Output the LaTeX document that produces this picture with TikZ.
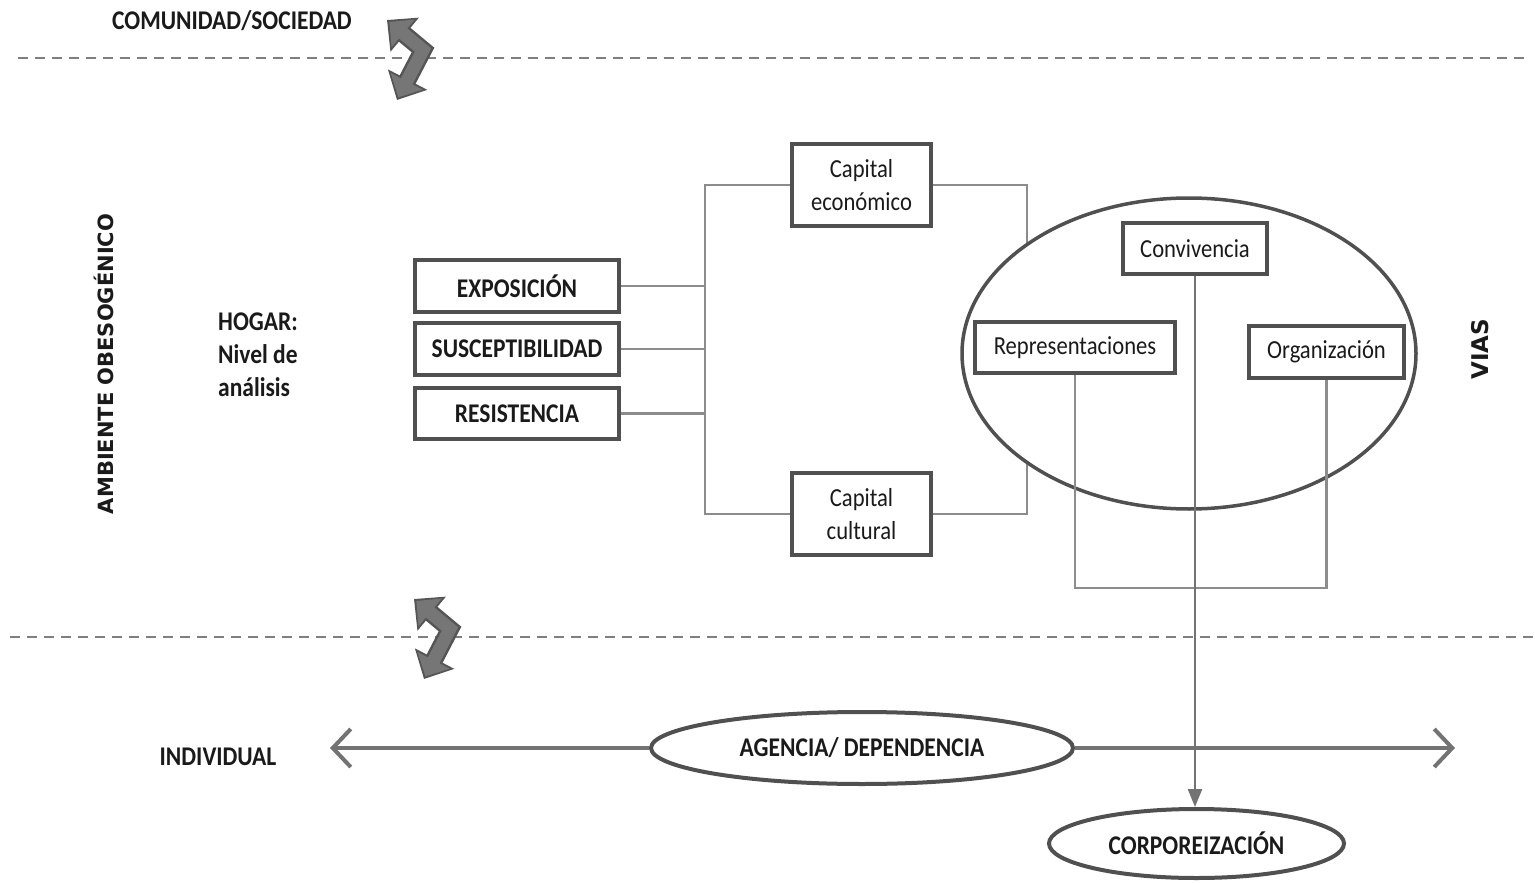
\documentclass[tikz,border=0pt]{standalone}
\usepackage{fontspec}
\setmainfont{Carlito}[FakeStretch=0.87]
\newfontfamily\widefont{DejaVu Sans}
\usetikzlibrary{arrows.meta,shapes.geometric}
\definecolor{boxc}{HTML}{505050}
\definecolor{linec}{HTML}{8C8C8C}
\definecolor{dashc}{HTML}{7F7F7F}
\definecolor{arrc}{HTML}{737373}
\definecolor{zzdark}{HTML}{555555}
\definecolor{zzmid}{HTML}{767676}
\definecolor{txt}{HTML}{1A1A1A}
\tikzset{
  bx/.style={draw=boxc, line width=4pt, fill=white, text=txt, inner sep=0pt, align=center},
  bxb/.style={bx, font=\fontsize{27}{33}\selectfont\bfseries},
  bxr/.style={bx, font=\fontsize{26}{33}\selectfont},
  lbl/.style={text=txt, inner sep=0pt, font=\fontsize{27}{33}\selectfont\bfseries},
  widelbl/.style={text=txt, inner sep=0pt, rotate=90, font=\widefont\bfseries\fontsize{21}{21}\selectfont},
  conn/.style={draw=linec, line width=2.5pt},
  ell/.style={ellipse, draw=boxc, line width=4pt, fill=white, text=txt, inner sep=0pt, font=\fontsize{27}{33}\selectfont\bfseries},
  dashln/.style={draw=dashc, line width=2pt, dash pattern=on 10pt off 7pt},
  zzout/.style={draw=zzdark, line width=18pt, line join=miter, {Triangle[width=43pt,length=23pt]}-{Triangle[width=43pt,length=23pt]}},
  zzin/.style={draw=zzmid, line width=13pt, line join=miter, shorten <=3pt, shorten >=3pt, {Triangle[width=35pt,length=18pt]}-{Triangle[width=35pt,length=18pt]}},
  bigarr/.style={draw=arrc, line width=4pt, -{Straight Barb[length=18pt,width=38pt]}},
}
\begin{document}
\begin{tikzpicture}[x=1pt,y=-1pt]
\fill[white] (0,0) rectangle (1535,883);
\useasboundingbox (0,0) rectangle (1535,883);

% dashed level lines
\draw[dashln] (18,58) -- (1530,58);
\draw[dashln] (10,637) -- (1535,637);

% zigzag double arrows
\foreach \dx/\dy in {0/0, 27/579} {
  \draw[zzout] (387+\dx,20+\dy) -- (423+\dx,50+\dy) -- (397+\dx,100+\dy);
  \draw[zzin]  (387+\dx,20+\dy) -- (423+\dx,50+\dy) -- (397+\dx,100+\dy);
}

% labels
\node[lbl] (com) at (232,21) {COMUNIDAD/SOCIEDAD};
\node[widelbl] (amb) at (104,364) {AMBIENTE OBESOGÉNICO};
\node[lbl, align=left, anchor=west] (hog) at (218,355) {HOGAR:\\Nivel de\\análisis};
\node[widelbl, font=\widefont\bfseries\fontsize{23}{23}\selectfont] (vias) at (1480,349) {VIAS};
\node[lbl] (ind) at (218,757) {INDIVIDUAL};

% left boxes
\node[bxb, minimum width=204pt, minimum height=52pt] (exp) at (517,286) {EXPOSICIÓN};
\node[bxb, minimum width=204pt, minimum height=52pt] (sus) at (517,349) {SUSCEPTIBILIDAD};
\node[bxb, minimum width=204pt, minimum height=51pt] (res) at (517,413.5) {RESISTENCIA};

% capital boxes
\node[bxr, minimum width=139pt, minimum height=82pt] (ce) at (861.5,185) {Capital\\económico};
\node[bxr, minimum width=139pt, minimum height=82pt] (cc) at (861.5,514) {Capital\\cultural};

% spine connectors
\coordinate (spine) at (705,350);
\draw[conn] (exp.east) -- (exp.east -| spine);
\draw[conn] (sus.east) -- (sus.east -| spine);
\draw[conn] (res.east) -- (res.east -| spine);
\draw[conn] (ce.west) -| (cc.west -| spine) -- (cc.west);

% connectors to the ellipse
\coordinate (jn) at (1027,353);
\draw[conn] (ce.east) -| (jn);
\draw[conn] (cc.east) -| (jn);

% big ellipse
\node[ell, line width=3.5pt, minimum width=454pt, minimum height=311pt] (circ) at (1189,353.5) {};

% inner boxes
\node[bxr, minimum width=144pt, minimum height=51pt] (conv) at (1195,248.5) {Convivencia};
\node[bxr, minimum width=200pt, minimum height=51pt] (rep) at (1075,347.5) {Representaciones};
\node[bxr, minimum width=155pt, minimum height=52pt] (org) at (1326.5,352) {Organización};

\coordinate (bot) at (0,588);
\draw[conn] (rep.south) -- (rep.south |- bot) -| (org.south);

% bottom row
\coordinate (lft) at (330,748);
\coordinate (rgt) at (1455,748);
\node[ell, minimum width=422pt, minimum height=72pt] (agen) at (862,748) {AGENCIA/ DEPENDENCIA};
\draw[bigarr] (agen.west) -- (lft);
\draw[bigarr] (agen.east) -- (rgt);
\node[ell, minimum width=295pt, minimum height=69pt] (corp) at (1196.5,843.5) {CORPOREIZACIÓN};

\draw[conn, draw=arrc, -{Triangle[width=14pt,length=18pt]}] (conv.south) -- (conv.south |- corp.north);
\end{tikzpicture}
\end{document}
